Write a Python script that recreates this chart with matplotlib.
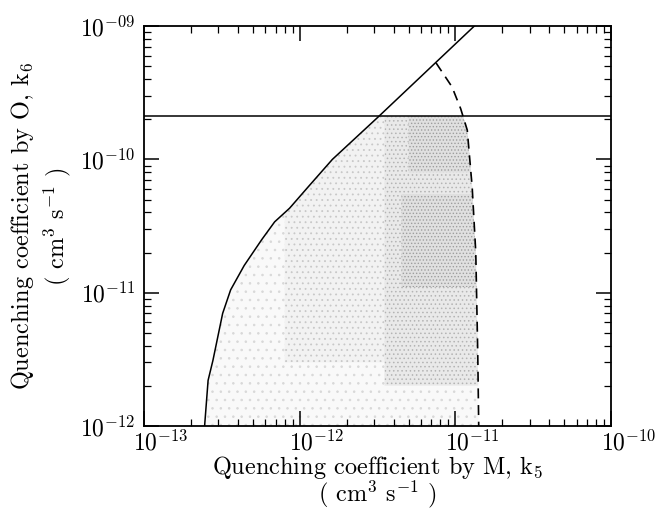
import numpy as np
import matplotlib
matplotlib.use('Agg')
import matplotlib.pyplot as plt
import matplotlib.transforms as mtransforms
from matplotlib.ticker import FixedLocator, FixedFormatter, LogLocator, NullFormatter

plt.rcParams['font.family'] = ['cmr10', 'DejaVu Serif']
plt.rcParams['mathtext.fontset'] = 'cm'
plt.rcParams['axes.formatter.use_mathtext'] = True
plt.rcParams['hatch.linewidth'] = 0.6

# solid boundary curve (k5, k6)
solid_k5 = [2.45e-13, 2.58e-13, 2.77e-13, 3.2e-13, 3.6e-13, 4.4e-13, 5.7e-13,
            6.9e-13, 8.6e-13, 1.13e-12, 1.62e-12, 3.2e-12, 1.32e-11]
solid_k6 = [1e-12, 2.2e-12, 3.1e-12, 7.0e-12, 1.05e-11, 1.6e-11, 2.5e-11,
            3.4e-11, 4.3e-11, 6.2e-11, 1.0e-10, 2.09e-10, 1e-9]

# dashed boundary curve
dashed_k5 = [7.5e-12, 9.5e-12, 1.08e-11, 1.19e-11, 1.28e-11, 1.35e-11, 1.39e-11, 1.41e-11]
dashed_k6 = [5.3e-10, 3.5e-10, 2.4e-10, 1.66e-10, 6.2e-11, 2.0e-11, 3.5e-12, 1e-12]

# horizontal limit on k6
k6_limit = 2.1e-10

# stippled allowed region, drawn in layers of rising density
shade_k5_min = [1e-13, 8e-13, 3.5e-12, 4.5e-12, 5e-12]
shade_k6_min = [1e-12, 3e-12, 2e-12, 1.1e-11, 8e-11]
shade_k6_max = [k6_limit, k6_limit, k6_limit, 5.5e-11, k6_limit]
shade_face = ['#f9f9f9', '#f2f2f2', '#e9e9e9', '#e0e0e0', '#e0e0e0']
shade_dots = ['#d8d8d8', '#c8c8c8', '#b4b4b4', '#9e9e9e', '#9e9e9e']
shade_hatch = ['..', '...', '....', '.....', '.....']

xticks = [1e-13, 1e-12, 1e-11, 1e-10]
xticklabels = [r'$10^{-13}$', r'$10^{-12}$', r'$10^{-11}$', r'$10^{-10}$']
yticks = [1e-12, 1e-11, 1e-10, 1e-9]
yticklabels = [r'$10^{-12}$', r'$10^{-11}$', r'$10^{-10}$', r'$10^{-09}$']

fig = plt.figure(figsize=(6.59, 5.12), dpi=100)
ax = fig.add_axes([0.2185, 0.168, 0.709, 0.781])
ax.set_xscale('log')
ax.set_yscale('log')
ax.set_xlim(1e-13, 1e-10)
ax.set_ylim(1e-12, 1e-9)

# shaded region between the solid curve, the limit line and the dashed curve
ly = np.linspace(-12, np.log10(k6_limit), 400)
x_left = np.interp(ly, np.log10(solid_k6), np.log10(solid_k5))
x_right = np.interp(ly, np.log10(dashed_k6[::-1]), np.log10(dashed_k5[::-1]))
for i in range(len(shade_face)):
    m = (ly >= np.log10(shade_k6_min[i])) & (ly <= np.log10(shade_k6_max[i]))
    xl = np.maximum(x_left[m], np.log10(shade_k5_min[i]))
    ax.fill_betweenx(10**ly[m], 10**xl, 10**x_right[m], facecolor=shade_face[i],
                     edgecolor=shade_dots[i], hatch=shade_hatch[i], lw=0, zorder=1)

ax.plot(solid_k5, solid_k6, color='black', lw=1.1, zorder=3)
ax.plot(dashed_k5, dashed_k6, color='black', lw=1.2, dashes=(6, 4), zorder=3)
ax.axhline(k6_limit, color='black', lw=1.1, zorder=3)

ax.xaxis.set_major_locator(FixedLocator(xticks))
ax.xaxis.set_major_formatter(FixedFormatter(xticklabels))
ax.yaxis.set_major_locator(FixedLocator(yticks))
ax.yaxis.set_major_formatter(FixedFormatter(yticklabels))
ax.xaxis.set_minor_locator(LogLocator(base=10, subs=np.arange(2, 10)))
ax.yaxis.set_minor_locator(LogLocator(base=10, subs=np.arange(2, 10)))
ax.xaxis.set_minor_formatter(NullFormatter())
ax.yaxis.set_minor_formatter(NullFormatter())

ax.tick_params(which='both', direction='in', top=True, right=True, labelsize=17)
ax.tick_params(which='major', length=11, width=1.1)
ax.tick_params(which='minor', length=5, width=0.9)
ax.tick_params(axis='x', pad=3)
ax.tick_params(axis='y', pad=6)
for s in ax.spines.values():
    s.set_linewidth(1.3)

# "10" of each x label sits over its tick, exponent hangs to the right
offset = mtransforms.ScaledTranslation(0.17, 0, fig.dpi_scale_trans)
for lbl in ax.get_xticklabels():
    lbl.set_transform(lbl.get_transform() + offset)

ax.text(0.5, -0.07, 'Quenching coefficient by M, k$_5$\n( cm$^3$ s$^{-1}$ )',
        transform=ax.transAxes, ha='center', va='top', ma='center',
        fontsize=17.5, linespacing=0.88)
ax.text(-0.22, 0.5, 'Quenching coefficient by O, k$_6$\n( cm$^3$ s$^{-1}$ )',
        transform=ax.transAxes, ha='center', va='center', ma='center',
        rotation=90, fontsize=17.5, linespacing=1.25)

fig.savefig('out.png', dpi=100)
